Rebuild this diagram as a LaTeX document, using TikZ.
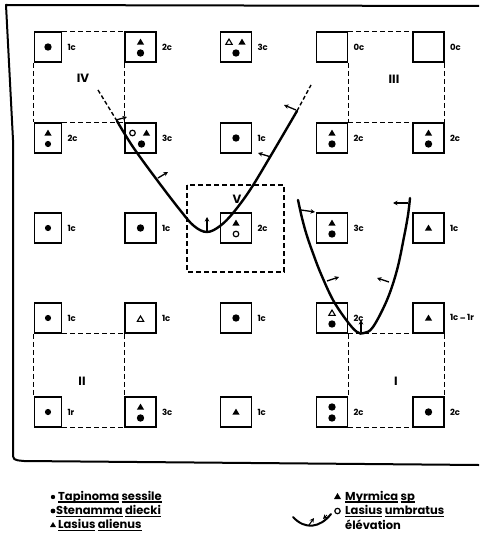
\documentclass[tikz,border=0pt]{standalone}
\usepackage{fontspec}
\setmainfont{Poppins}
\usetikzlibrary{arrows.meta}
\newcommand\Dot[3][3.7pt]{\fill (#2) ++(#3) circle (#1);}
\newcommand\Tri[2]{\fill (#1) ++(#2) ++(0,-3.4) -- ++(3.6,6.0) -- ++(-7.2,0) -- cycle;}
\newcommand\OTri[2]{\draw[line width=1.1pt,line join=miter] (#1) ++(#2) ++(0,-3) -- ++(3.2,5.4) -- ++(-6.4,0) -- cycle;}
\newcommand\Ring[2]{\draw[line width=1.2pt] (#1) ++(#2) circle (2.8pt);}
\newcommand\ulw[1]{\setbox0\hbox{#1}\rlap{\rule[-2.6pt]{\wd0}{1.2pt}}\box0\relax}
\begin{document}
\begin{tikzpicture}[x=1pt,y=-1pt,
  box/.style={draw,line width=1.6pt,minimum width=31pt,minimum height=30pt,inner sep=0pt},
  nbox/.style={box,minimum width=27pt},
  lab/.style={anchor=west,font=\bfseries\fontsize{8.5}{9}\selectfont,inner sep=0pt},
  reg/.style={line width=1.3pt,dash pattern=on 5pt off 3pt},
  rom/.style={font=\bfseries\fontsize{12}{12}\selectfont,inner sep=0pt},
  crv/.style={line width=2.4pt,line cap=round},
  dcrv/.style={line width=1.4pt,dash pattern=on 4pt off 2.5pt},
  tick/.style={line width=1.3pt,-{Stealth[length=4.5pt,width=4.5pt]}},
  leg/.style={anchor=west,font=\bfseries\fontsize{11.5}{12}\selectfont,inner sep=0pt},
]
\useasboundingbox (0,0) rectangle (479,540);
% frame
\draw[line width=2pt,line join=round] (479,6) -- (6,5) -- (13,140) -- (13,452) .. controls (13,460) .. (24,461) -- (479,465);
% boxes
\foreach \r/\y in {1/47,2/138,3/228,4/318,5/412}{
  \node[nbox] (b\r1) at (48,\y) {};
  \node[box] (b\r2) at (140.5,\y) {};
  \node[box] (b\r3) at (236,\y) {};
  \node[box] (b\r4) at (332,\y) {};
  \node[box] (b\r5) at (428.5,\y) {};
}
% labels
\node[lab] (l11) at ([xshift=5pt]b11.east) {1c};
\node[lab] (l12) at ([xshift=5pt]b12.east) {2c};
\node[lab] (l13) at ([xshift=5pt]b13.east) {3c};
\node[lab] (l14) at ([xshift=5pt]b14.east) {0c};
\node[lab] (l15) at ([xshift=5pt]b15.east) {0c};
\node[lab] (l21) at ([xshift=5pt]b21.east) {2c};
\node[lab] (l22) at ([xshift=5pt]b22.east) {3c};
\node[lab] (l23) at ([xshift=5pt]b23.east) {1c};
\node[lab] (l24) at ([xshift=5pt]b24.east) {2c};
\node[lab] (l25) at ([xshift=5pt]b25.east) {2c};
\node[lab] (l31) at ([xshift=5pt]b31.east) {1c};
\node[lab] (l32) at ([xshift=5pt]b32.east) {1c};
\node[lab] (l33) at ([xshift=5pt]b33.east) {2c};
\node[lab] (l34) at ([xshift=5pt]b34.east) {3c};
\node[lab] (l35) at ([xshift=5pt]b35.east) {1c};
\node[lab] (l41) at ([xshift=5pt]b41.east) {1c};
\node[lab] (l42) at ([xshift=5pt]b42.east) {1c};
\node[lab] (l43) at ([xshift=5pt]b43.east) {1c};
\node[lab] (l44) at ([xshift=5pt]b44.east) {2c};
\node[lab] (l45) at ([xshift=5pt]b45.east) {1c\,\raisebox{-1pt}{–}\,1r};
\node[lab] (l51) at ([xshift=5pt]b51.east) {1r};
\node[lab] (l52) at ([xshift=5pt]b52.east) {3c};
\node[lab] (l53) at ([xshift=5pt]b53.east) {1c};
\node[lab] (l54) at ([xshift=5pt]b54.east) {2c};
\node[lab] (l55) at ([xshift=5pt]b55.east) {2c};
% contents
\Dot{b11}{0,0}
\Tri{b12}{0,-5} \Dot{b12}{0,6}
\OTri{b13}{-7,-5} \Tri{b13}{6,-5} \Dot{b13}{0,6}
\Tri{b21}{0,-5} \Dot[3.1pt]{b21}{0,6}
\Ring{b22}{-8,-5} \Tri{b22}{6,-5} \Dot{b22}{1,6}
\Dot{b23}{0,0}
\Tri{b24}{0,-5} \Dot{b24}{0,6}
\Tri{b25}{0,-5} \Dot{b25}{0,6}
\Dot[3.1pt]{b31}{0,0}
\Dot{b32}{0,0}
\Tri{b33}{0,-5} \Ring{b33}{0,6}
\Tri{b34}{0,-5} \Dot{b34}{0,6}
\Tri{b35}{0,0}
\Dot[3.1pt]{b41}{0,0}
\OTri{b42}{0,1}
\Dot{b43}{0,0}
\OTri{b44}{0,-5} \Dot{b44}{0,6}
\Tri{b45}{0,0}
\Dot[3.1pt]{b51}{0,0}
\Tri{b52}{0,-5} \Dot{b52}{0,6}
\Tri{b53}{0,0}
\Dot{b54}{0,-5} \Dot{b54}{0,6}
\Dot{b55}{0,0}
% regions
\draw[reg] (b11.north east) -- (b12.north west);
\draw[reg] (b11.south west) -- (b21.north west);
\draw[reg] (b12.south west) -- (b22.north west);
\draw[reg] (b21.north east) -- (b22.north west);
\draw[reg] (b14.north east) -- (b15.north west);
\draw[reg] (b14.south east) -- (b24.north east);
\draw[reg] (b15.south east) -- (b25.north east);
\draw[reg] (b24.north east) -- (b25.north west);
\draw[reg] (b41.south east) -- (b42.south west);
\draw[reg] (b41.south west) -- (b51.north west);
\draw[reg] (b42.south west) -- (b52.north west);
\draw[reg] (b51.south east) -- (b52.south west);
\draw[reg] (b44.south east) -- (b45.south west);
\draw[reg] (b44.south east) -- (b54.north east);
\draw[reg] (b45.south east) -- (b55.north east);
\draw[reg] (b54.south east) -- (b55.south west);
\draw[reg] (187,185) rectangle (284,272);
\node[rom] (rIV) at (83,78) {IV};
\node[rom] (rIII) at (394,79) {III};
\node[rom] (rII) at (82,381) {II};
\node[rom] (rI) at (396,381) {I};
\node[rom] (rV) at (237,199) {V};
% curve 1
\draw[dcrv] (98,90) -- (117,121);
\draw[crv] plot[smooth,tension=0.6] coordinates {(117,121) (133,147) (157,180) (180,210) (194,226) (207,232) (220,226) (233,213) (250,190) (270,157) (297,111)};
\draw[dcrv] (297,111) -- (311,85);
\draw[tick] (116,120) -- (127,117);
\draw[tick] (158,178) -- (168,172);
\draw[tick] (207,231) -- (207,217);
\draw[tick] (271,157) -- (258,153);
\draw[tick] (296,110) -- (284,105);
% curve 2
\draw[crv] plot[smooth,tension=0.6] coordinates {(298,200) (302,218) (307,236) (314,256) (321,274) (333,300) (347,321) (357,332) (364,333) (373,327) (387,300) (397,270) (404,237) (408,215) (410,198)};
\draw[tick] (301,210) -- (315,212);
\draw[tick] (408,203) -- (393,203);
\draw[tick] (327,281) -- (339,277);
\draw[tick] (389,282) -- (377,278);
\draw[tick] (361,332) -- (361,320);
% legend
\fill (53,497) circle (2.2pt);
\node[leg] (lg1) at (58,497) {\ulw{Tapinoma} \ulw{sessile}};
\fill (53,511) circle (2.4pt);
\node[leg] (lg2) at (56,511) {\ulw{Stenamma} \ulw{diecki}};
\fill (50,527) -- (53,522) -- (56,527) -- cycle;
\node[leg] (lg3) at (58,525) {\ulw{Lasius} \ulw{alienus}};
\fill (334,499) -- (337.5,493) -- (341,499) -- cycle;
\node[leg] (lg4) at (345,497) {\ulw{Myrmica} \ulw{sp}};
\draw[line width=1.2pt] (337.5,511) circle (2.7pt);
\node[leg] (lg5) at (345,511) {\ulw{Lasius} \ulw{umbratus}};
\draw[crv,line width=2pt] (293,517) .. controls (305,530) and (320,528) .. (331,514);
\draw[tick,line width=1pt] (309,525) -- (314,518);
\draw[tick,line width=1pt] (327,515) -- (323,519);
\node[leg] (lg6) at (345,525) {élévation};
\end{tikzpicture}
\end{document}
